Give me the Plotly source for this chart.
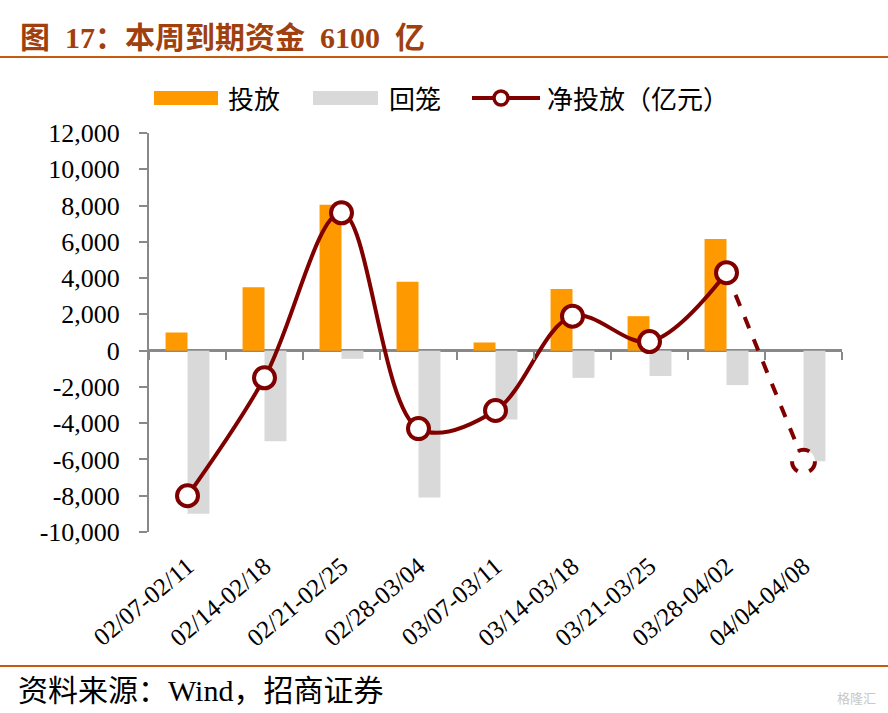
import plotly.graph_objects as go

# 数据（亿元）
weeks = ["02/07-02/11", "02/14-02/18", "02/21-02/25", "02/28-03/04", "03/07-03/11",
         "03/14-03/18", "03/21-03/25", "03/28-04/02", "04/04-04/08"]
touFang = [1000, 3500, 8050, 3800, 450, 3400, 1900, 6150, 0]
huiLong = [-9000, -5000, -450, -8100, -3800, -1500, -1400, -1900, -6100]
jingTouFang = [-8000, -1500, 7600, -4300, -3300, 1900, 500, 4300, -6100]

y_ticks = [-10000, -8000, -6000, -4000, -2000, 0, 2000, 4000, 6000, 8000, 10000, 12000]
y_ticktext = [f"{v:,}" for v in y_ticks]

W, H = 888, 713
ML, MR, MT, MB = 149, 46, 133, 181
pw, ph = W - ML - MR, H - MT - MB

# 像素 -> paper 坐标
def px(x):
    return (x - ML) / pw

def py(y):
    return 1 - (y - MT) / ph

maroon = "#800000"
orange = "#FF9900"
grey = "#D9D9D9"
axis_grey = "#898989"
serif = "Liberation Serif, Noto Sans CJK SC"
cjk = "Noto Sans CJK SC"

fig = go.Figure()

fig.add_trace(go.Bar(x=weeks, y=touFang, name="投放", marker=dict(color=orange, line=dict(width=0))))
fig.add_trace(go.Bar(x=weeks, y=huiLong, name="回笼", marker=dict(color=grey, line=dict(width=0))))

# 最后一段为虚线
fig.add_trace(go.Scatter(
    x=weeks[-2:], y=jingTouFang[-2:], mode="lines",
    line=dict(color=maroon, width=4, dash="dash"),
    showlegend=False, hoverinfo="skip"
))

fig.add_trace(go.Scatter(
    x=weeks[:-1], y=jingTouFang[:-1], mode="lines+markers", name="净投放（亿元）",
    line=dict(color=maroon, width=4, shape="spline", smoothing=1),
    marker=dict(size=21, color="white", line=dict(color=maroon, width=4))
))

# 0 轴上的刻度
fig.add_trace(go.Scatter(x=weeks, y=[None] * len(weeks), xaxis="x2",
                         showlegend=False, hoverinfo="skip"))

y_min, y_max = y_ticks[0], y_ticks[-1]
x_range = [-0.5, len(weeks) - 0.5]

shapes = [
    dict(type="line", xref="paper", yref="paper", x0=px(0), x1=px(W), y0=py(57), y1=py(57),
         line=dict(color="#C55A11", width=2)),
    dict(type="line", xref="paper", yref="paper", x0=px(0), x1=px(W), y0=py(666), y1=py(666),
         line=dict(color="#C55A11", width=2)),
    dict(type="circle", xref="x", yref="y", xsizemode="pixel", ysizemode="pixel",
         xanchor=weeks[-1], yanchor=jingTouFang[-1], x0=-11.5, x1=11.5, y0=-11.5, y1=11.5,
         fillcolor="white", line=dict(color=maroon, width=4, dash="dash"), layer="above"),
    # 图例
    dict(type="rect", xref="paper", yref="paper", x0=px(154), x1=px(218), y0=py(91), y1=py(105),
         fillcolor=orange, line=dict(width=0)),
    dict(type="rect", xref="paper", yref="paper", x0=px(313), x1=px(378), y0=py(91), y1=py(105),
         fillcolor=grey, line=dict(width=0)),
    dict(type="line", xref="paper", yref="paper", x0=px(472), x1=px(540), y0=py(98), y1=py(98),
         line=dict(color=maroon, width=4)),
    dict(type="circle", xref="paper", yref="paper", x0=px(494), x1=px(508), y0=py(91), y1=py(105),
         fillcolor="white", line=dict(color=maroon, width=3.5)),
]

legend_items = [("投放", 226), ("回笼", 387), ("净投放（亿元）", 545)]
annotations = [
    dict(text=t, xref="paper", yref="paper", x=px(x), y=py(98), xanchor="left", yanchor="middle",
         showarrow=False, font=dict(family=cjk, size=26, color="black"))
    for t, x in legend_items
]
annotations += [
    dict(text="资料来源：Wind，招商证券", xref="paper", yref="paper", x=px(16), y=py(690),
         xanchor="left", yanchor="middle", showarrow=False,
         font=dict(family=serif, size=30, color="black")),
    dict(text="格隆汇", xref="paper", yref="paper", x=px(878), y=py(697),
         xanchor="right", yanchor="middle", showarrow=False,
         font=dict(family=cjk, size=13, color="#c8c8c8")),
]

sp = "\u2002"
fig.update_layout(
    width=W, height=H,
    margin=dict(l=ML, r=MR, t=MT, b=MB, autoexpand=False),
    plot_bgcolor="white", paper_bgcolor="white",
    barmode="group", bargap=0.43, bargroupgap=0,
    showlegend=False,
    title=dict(text=f"<b>图{sp}17：本周到期资金{sp}6100{sp}亿</b>",
               font=dict(family=serif, size=30, color="#A0400F"),
               xref="container", yref="container", x=20 / W, y=1 - 37 / H,
               xanchor="left", yanchor="middle"),
    xaxis=dict(type="category", range=x_range, showline=False, ticks="", tickangle=-40,
               automargin=False, ticklabelstandoff=14,
               tickfont=dict(family=serif, size=25, color="black"), showgrid=False),
    xaxis2=dict(type="category", overlaying="x", matches="x", anchor="free", automargin=False,
                position=(0 - y_min) / (y_max - y_min), showticklabels=False,
                ticks="outside", ticklen=8, tickwidth=2, tickcolor=axis_grey,
                tickson="boundaries", showline=False, showgrid=False),
    yaxis=dict(range=[y_min, y_max], tickvals=y_ticks, ticktext=y_ticktext, automargin=False,
               showline=True, linecolor=axis_grey, linewidth=2, ticks="outside",
               ticklen=8, tickwidth=2, tickcolor=axis_grey, showgrid=False,
               ticklabelstandoff=14,
               zeroline=True, zerolinecolor=axis_grey, zerolinewidth=2.5,
               tickfont=dict(family=serif, size=26, color="black")),
    shapes=shapes,
    annotations=annotations,
)

fig.write_html("out.html", config={"displayModeBar": False},
               post_script="document.body.style.margin='0';")
